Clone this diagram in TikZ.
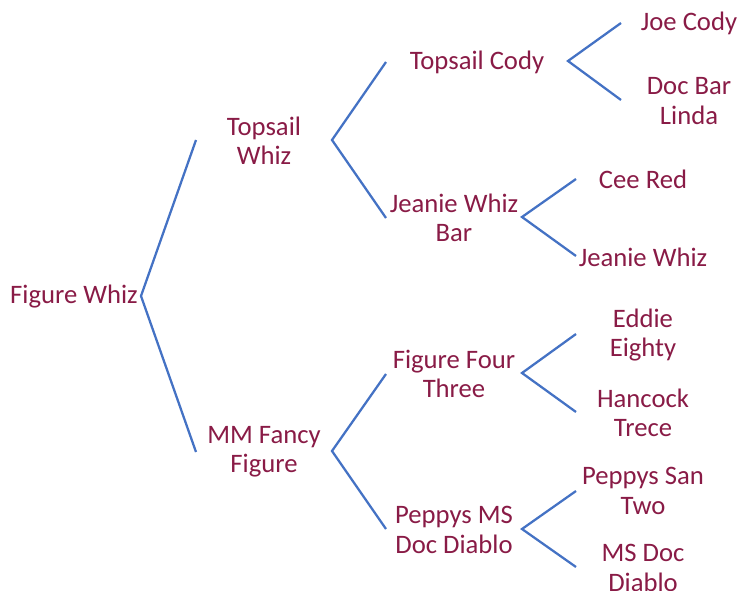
\documentclass[tikz,border=0pt]{standalone}
\usepackage{fontspec}
\setmainfont{Carlito}
\usepackage{xcolor}
\usepackage{tikz}
\usetikzlibrary{positioning,calc}
\definecolor{horsered}{RGB}{137,27,70}
\definecolor{lineblue}{RGB}{68,114,196}

\begin{document}
\begin{tikzpicture}[x=0.75pt,y=-0.75pt,
    horse/.style={text=horsered,align=center,inner sep=0pt,
      font=\fontsize{20}{21.9}\selectfont},
    branch/.style={draw=lineblue,line width=1.7pt}]
  \useasboundingbox (0,0) rectangle (738,591);
  % names
  \node[horse] (fw) at (74,297) {Figure Whiz};
  \node[horse] (tw) at (264,141) {Topsail\\Whiz};
  \node[horse] (mf) at (264,452) {MM Fancy\\Figure};
  \node[horse] (tc) at (477,62) {Topsail Cody};
  \node[horse] (jwb) at (454,218) {Jeanie Whiz\\Bar};
  \node[horse] (fft) at (454,374) {Figure Four\\Three};
  \node[horse] (pmd) at (454,530) {Peppys MS\\Doc Diablo};
  \node[horse] (jc) at (689,23) {Joe Cody};
  \node[horse] (dbl) at (689,101) {Doc Bar\\Linda};
  \node[horse] (cr) at (643,179) {Cee Red};
  \node[horse] (jw) at (643,257) {Jeanie Whiz};
  \node[horse] (ee) at (643,335) {Eddie\\Eighty};
  \node[horse] (ht) at (643,413) {Hancock\\Trece};
  \node[horse] (pst) at (643,491) {Peppys San\\Two};
  \node[horse] (mdd) at (643,568) {MS Doc\\Diablo};
  % branch points
  \coordinate (fw-v) at (141,296);
  \coordinate (fw-a) at (196,140);
  \coordinate (fw-b) at (196,452);
  \coordinate (tw-v) at (332,140);
  \coordinate (tw-a) at (386,62);
  \coordinate (tw-b) at (386,218);
  \coordinate (mf-v) at (332,451);
  \coordinate (mf-a) at (386,374);
  \coordinate (mf-b) at (386,529);
  \coordinate (tc-v) at (568,61);
  \coordinate (tc-a) at (621,23);
  \coordinate (tc-b) at (621,100);
  \coordinate (jwb-v) at (522,217);
  \coordinate (jwb-a) at (576,179);
  \coordinate (jwb-b) at (576,256);
  \coordinate (fft-v) at (522,373);
  \coordinate (fft-a) at (576,334);
  \coordinate (fft-b) at (576,412);
  \coordinate (pmd-v) at (522,529);
  \coordinate (pmd-a) at (576,491);
  \coordinate (pmd-b) at (576,567);
  % lines
  \foreach \p in {fw,tw,mf,tc,jwb,fft,pmd}
    \draw[branch] (\p-a) -- (\p-v) -- (\p-b);
\end{tikzpicture}
\end{document}
